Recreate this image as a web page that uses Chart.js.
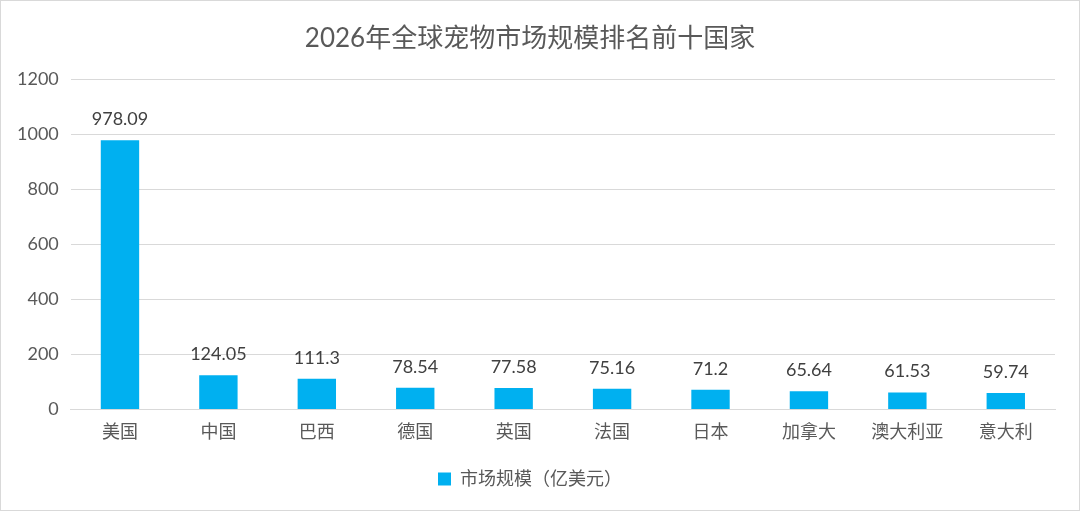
<!DOCTYPE html>
<html>
<head>
<meta charset="utf-8">
<script src="https://cdn.jsdelivr.net/npm/chart.js@4/dist/chart.umd.min.js"></script>
<style>
html,body{margin:0;padding:0;background:#fff;}
#wrap{position:absolute;left:0;top:0;width:1078px;height:509px;border:1px solid #d9d9d9;}
canvas{display:block;}
</style>
</head>
<body>
<div id="wrap"><canvas id="c" width="1078" height="509"></canvas></div>
<script>
const categories = ["美国","中国","巴西","德国","英国","法国","日本","加拿大","澳大利亚","意大利"];
const values = [978.09,124.05,111.3,78.54,77.58,75.16,71.2,65.64,61.53,59.74];
const valueLabels = ["978.09","124.05","111.3","78.54","77.58","75.16","71.2","65.64","61.53","59.74"];
const yTicks = [0,200,400,600,800,1000,1200];
const seriesName = "市场规模（亿美元）";
const titleText = "2026年全球宠物市场规模排名前十国家";

const FONT = "Lato, 'Noto Sans CJK SC', sans-serif";

const labelPlugin = {
  id: 'barLabels',
  afterDatasetsDraw(chart) {
    const ctx = chart.ctx;
    const meta = chart.getDatasetMeta(0);
    ctx.save();
    ctx.font = "18px " + FONT;
    ctx.fillStyle = "#404040";
    ctx.textAlign = "center";
    ctx.textBaseline = "bottom";
    meta.data.forEach((bar, i) => {
      ctx.fillText(valueLabels[i], bar.x, bar.y - 12);
    });
    ctx.restore();
  }
};

new Chart(document.getElementById('c'), {
  type: 'bar',
  data: {
    labels: categories,
    datasets: [{
      label: seriesName,
      data: values,
      backgroundColor: '#00b0f0',
      borderWidth: 0,
      barPercentage: 0.39,
      categoryPercentage: 1.0
    }]
  },
  options: {
    responsive: false,
    animation: false,
    devicePixelRatio: 1,
    layout: { padding: { left: 4, right: 24, top: 0, bottom: 12 } },
    plugins: {
      title: {
        display: true,
        text: titleText,
        color: '#595959',
        font: { family: FONT, size: 26, weight: 'normal' },
        padding: { top: 22, bottom: 25 }
      },
      legend: {
        display: true,
        position: 'bottom',
        labels: {
          color: '#595959',
          font: { family: FONT, size: 18 },
          boxWidth: 13,
          boxHeight: 13,
          padding: 15
        }
      },
      tooltip: { enabled: false }
    },
    scales: {
      x: {
        grid: { display: false, drawTicks: false },
        border: { display: true, color: '#d9d9d9', width: 1 },
        ticks: { color: '#595959', font: { family: FONT, size: 18 }, padding: 12 }
      },
      y: {
        min: 0,
        max: 1200,
        afterBuildTicks(scale) { scale.ticks = yTicks.map(v => ({ value: v })); },
        grid: { color: '#d9d9d9', drawTicks: false },
        border: { display: false },
        ticks: { color: '#595959', font: { family: FONT, size: 18 }, padding: 12,
                 callback: v => String(v) }
      }
    }
  },
  plugins: [labelPlugin]
});
</script>
</body>
</html>
